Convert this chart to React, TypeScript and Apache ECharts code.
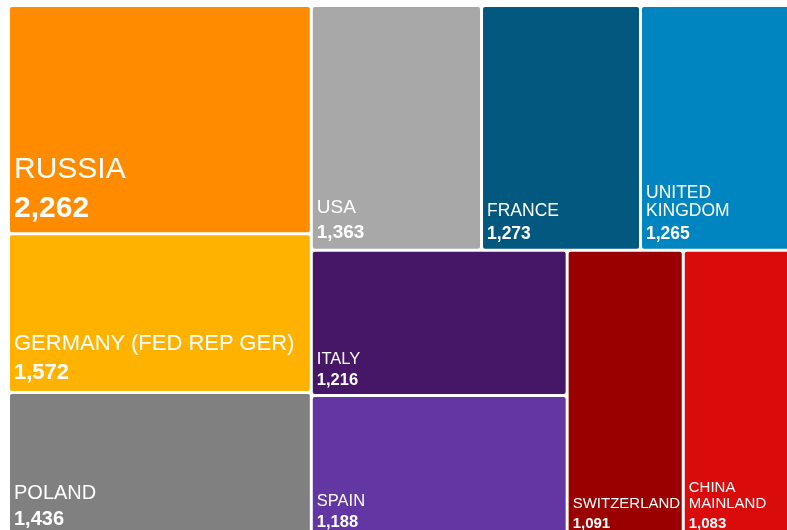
import React, { useEffect, useRef } from 'react';
import * as echarts from 'echarts';

const countries = [
  'RUSSIA',
  'GERMANY (FED REP GER)',
  'POLAND',
  'USA',
  'FRANCE',
  'UNITED KINGDOM',
  'ITALY',
  'SPAIN',
  'SWITZERLAND',
  'CHINA MAINLAND',
];
const values = [2262, 1572, 1436, 1363, 1273, 1265, 1216, 1188, 1091, 1083];
const colors = [
  '#FF8C00', '#FFB300', '#808080', '#A8A8A8', '#02587F',
  '#0085C1', '#461766', '#6236A3', '#9B0000', '#DA0B0B',
];
const labelFontSizes = [30, 22, 20, 19, 17.5, 17.5, 16.5, 16.5, 15, 15];
// where the reference wraps long names
const wrappedNames: Record<string, string> = {
  'UNITED KINGDOM': 'UNITED\nKINGDOM',
  'CHINA MAINLAND': 'CHINA\nMAINLAND',
};

const FONT = '"Liberation Sans", Arial, Helvetica, sans-serif';
const nameLH = (fs: number) => Math.round(fs * 1.05);
const valueLH = (fs: number) => Math.round(fs * 1.58);
const PAD_BOTTOM = 2;

export default function App() {
  const ref = useRef<HTMLDivElement>(null);
  useEffect(() => {
    const chart = echarts.init(ref.current as HTMLDivElement, null, { renderer: 'svg' });
    const data = countries.map((name, i) => {
      const fs = labelFontSizes[i];
      return {
        name,
        value: values[i],
        itemStyle: { color: colors[i] },
        label: {
          rich: {
            n: { fontSize: fs, lineHeight: nameLH(fs), color: '#fff', fontFamily: FONT },
            v: { fontSize: fs, lineHeight: valueLH(fs), color: '#fff', fontFamily: FONT, fontWeight: 'bold' },
          },
        },
      };
    });
    chart.setOption({
      animation: false,
      series: [
        {
          type: 'treemap',
          left: 10,
          top: 7,
          width: 787,
          height: 529,
          roam: false,
          nodeClick: false,
          breadcrumb: { show: false },
          sort: 'desc',
          itemStyle: { gapWidth: 3, borderWidth: 0, borderRadius: 2, borderColor: '#fff' },
          label: {
            show: true,
            position: 'insideTopLeft',
            distance: 0,
            padding: [0, 4, 0, 4],
            overflow: 'none',
            color: '#fff',
            fontFamily: FONT,
            formatter: (p: any) =>
              '{n|' + (wrappedNames[p.name] || p.name) + '}\n{v|' +
              Number(p.value).toLocaleString('en-US') + '}',
          },
          labelLayout: (p: any) => {
            const m = /\{n\|([\s\S]*?)\}/.exec(p.text || '');
            if (!m) return {};
            const disp = m[1];
            const i = countries.indexOf(disp.replace(/\n/g, ' '));
            if (i < 0) return {};
            const fs = labelFontSizes[i];
            const h = disp.split('\n').length * nameLH(fs) + valueLH(fs);
            return { dy: p.rect.height - h - PAD_BOTTOM };
          },
          upperLabel: { show: false },
          data,
        },
      ],
    });
    return () => chart.dispose();
  }, []);
  return (
    <div
      ref={ref}
      style={{ position: 'fixed', left: 0, top: 0, width: 787, height: 530 }}
    />
  );
}
